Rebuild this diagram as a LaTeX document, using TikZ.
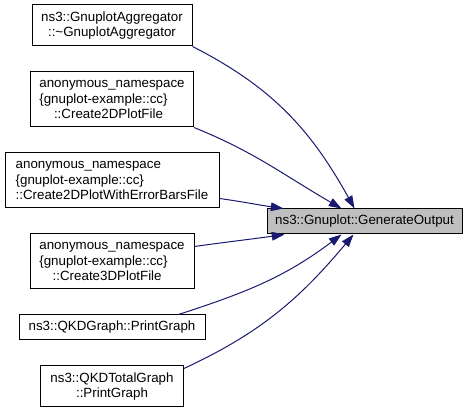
\documentclass[tikz,border=0pt]{standalone}
\usepackage{fontspec}
\setmainfont{Liberation Sans}
\usepackage{xcolor}
\usepackage{tikz}
\usetikzlibrary{positioning,arrows.meta,calc}
\definecolor{cazul}{HTML}{191970}
\definecolor{cgris}{HTML}{BFBFBF}
\tikzset{
  caja/.style={rectangle, draw=black, line width=0.75pt, fill=white,
    inner xsep=2pt, inner ysep=2pt, align=center, font=\fontsize{10}{11.5}\selectfont},
  cajag/.style={rectangle, draw=black, line width=0.75pt, fill=cgris,
    inner xsep=2pt, inner ysep=2pt, align=center, font=\fontsize{10}{11.5}\selectfont},
  flecha/.style={-{Triangle[length=9.5pt,width=6.5pt]}, line width=0.75pt, draw=cazul},
}

\begin{document}
\begin{tikzpicture}[x=0.75pt, y=0.75pt, node distance=18.75pt]
  \useasboundingbox (0,0) rectangle (467,409);
  \node[caja, minimum width=120pt, minimum height=30.75pt] (agg) at (112,383.5)
    {ns3::GnuplotAggregator\\::\textasciitilde GnuplotAggregator};
  \node[caja, align=left, minimum width=122.25pt, minimum height=41.25pt, below=of agg] (c2d)
    {anonymous\_namespace\\\{gnuplot-example::cc\}\\\hspace{11pt}::Create2DPlotFile};
  \node[caja, align=left, minimum width=160.5pt, minimum height=41.25pt, below=of c2d] (c2de)
    {anonymous\_namespace\\\{gnuplot-example::cc\}\\::Create2DPlotWithErrorBarsFile};
  \node[caja, align=left, minimum width=123pt, minimum height=41.25pt, below=of c2de] (c3d)
    {anonymous\_namespace\\\{gnuplot-example::cc\}\\\hspace{10pt}::Create3DPlotFile};
  \node[caja, minimum width=139.5pt, minimum height=18.75pt, below=of c3d] (qkd)
    {ns3::QKDGraph::PrintGraph};
  \node[caja, minimum width=107.25pt, minimum height=30.75pt, below=of qkd] (qkdt)
    {ns3::QKDTotalGraph\\::PrintGraph};
  \node[cajag, minimum width=146.25pt, minimum height=18.75pt, below right=0pt and 35.25pt of c2de] (gen)
    {ns3::Gnuplot::GenerateOutput};

  \draw[flecha] (agg.south east) to[out=-27, in=119] ($(gen.north west)+(88,0)$);
  \draw[flecha] (c2d.south east) to[out=-22, in=150] ($(gen.north west)+(75,0)$);
  \draw[flecha] ($(c2de.south east)+(0,10)$) to[out=-8, in=172] ($(gen.north west)+(17,0)$);
  \draw[flecha] ($(c3d.north east)+(0,-13)$) to[out=8, in=-172] ($(gen.south west)+(18,0)$);
  \draw[flecha] ($(qkd.north east)+(-27,0)$) to[out=18, in=-143] ($(gen.south west)+(75,0)$);
  \draw[flecha] ($(qkdt.north east)+(0,-3)$) to[out=25, in=-130] ($(gen.south west)+(87,0)$);
\end{tikzpicture}
\end{document}
